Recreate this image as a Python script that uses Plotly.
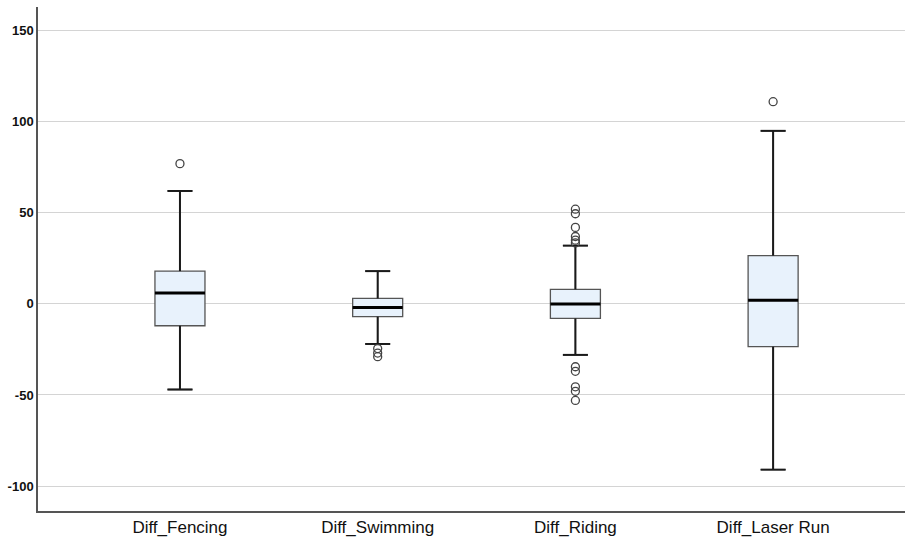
import plotly.graph_objects as go

categories = ["Diff_Fencing", "Diff_Swimming", "Diff_Riding", "Diff_Laser Run"]
lower_whisker = [-47, -22, -28, -91]
q1 = [-12, -7, -8, -23.5]
median = [6, -2, 0, 2]
q3 = [18, 3, 8, 26.5]
upper_whisker = [62, 18, 32, 95]
outliers = [
    [77],
    [-24.5, -27, -29],
    [52, 49.5, 42, 37, 35, 33.5, -34.5, -37, -45.5, -48, -53],
    [111],
]
y_ticks = [-100, -50, 0, 50, 100, 150]

xs = list(range(len(categories)))
box_w = 0.253
cap_w = box_w / 2

fig = go.Figure()
fig.add_trace(go.Box(
    x=xs, q1=q1, median=median, q3=q3,
    lowerfence=lower_whisker, upperfence=upper_whisker,
    width=box_w, whiskerwidth=0.5,
    fillcolor="#E8F2FC", line=dict(color="#555555", width=1.3),
    boxpoints=False, showlegend=False, hoverinfo="skip",
))

# thicker whiskers, caps and medians
wx, wy = [], []
for i in xs:
    wx += [i, i, None, i, i, None]
    wy += [q3[i], upper_whisker[i], None, q1[i], lower_whisker[i], None]
    wx += [i - cap_w / 2, i + cap_w / 2, None, i - cap_w / 2, i + cap_w / 2, None]
    wy += [upper_whisker[i], upper_whisker[i], None, lower_whisker[i], lower_whisker[i], None]
fig.add_trace(go.Scatter(x=wx, y=wy, mode="lines", line=dict(color="#1a1a1a", width=2),
                         showlegend=False, hoverinfo="skip"))
mx, my = [], []
for i in xs:
    mx += [i - box_w / 2, i + box_w / 2, None]
    my += [median[i], median[i], None]
fig.add_trace(go.Scatter(x=mx, y=my, mode="lines", line=dict(color="#000000", width=3),
                         showlegend=False, hoverinfo="skip"))

ox, oy = [], []
for i, vals in enumerate(outliers):
    for v in vals:
        ox.append(i)
        oy.append(v)
fig.add_trace(go.Scatter(x=ox, y=oy, mode="markers",
                         marker=dict(symbol="circle-open", size=8, color="#444444", line=dict(width=1.3)),
                         showlegend=False, hoverinfo="skip"))

fig.update_layout(
    width=905, height=540,
    margin=dict(l=38, r=0, t=7, b=29, autoexpand=False),
    plot_bgcolor="white", paper_bgcolor="white",
    font=dict(family="Liberation Sans, Arial, sans-serif", color="#111111"),
)
fig.update_xaxes(
    range=[-0.718, 3.667], tickvals=xs, ticktext=categories,
    showgrid=False, zeroline=False, showline=True, linecolor="#555555", linewidth=1.5,
    ticks="", tickfont=dict(size=17, color="#111111"), automargin=False,
)
fig.update_yaxes(
    range=[-113.7, 163], tickvals=y_ticks, ticktext=[str(t) for t in y_ticks],
    showgrid=True, gridcolor="#d4d4d4", gridwidth=1.2, zeroline=False,
    showline=True, linecolor="#555555", linewidth=1.5, ticks="",
    tickfont=dict(size=13, color="#111111", weight="bold"), automargin=False,
)
fig.write_html("out.html", config={"displayModeBar": False},
               post_script="document.body.style.margin='0';document.body.style.overflow='hidden';")
